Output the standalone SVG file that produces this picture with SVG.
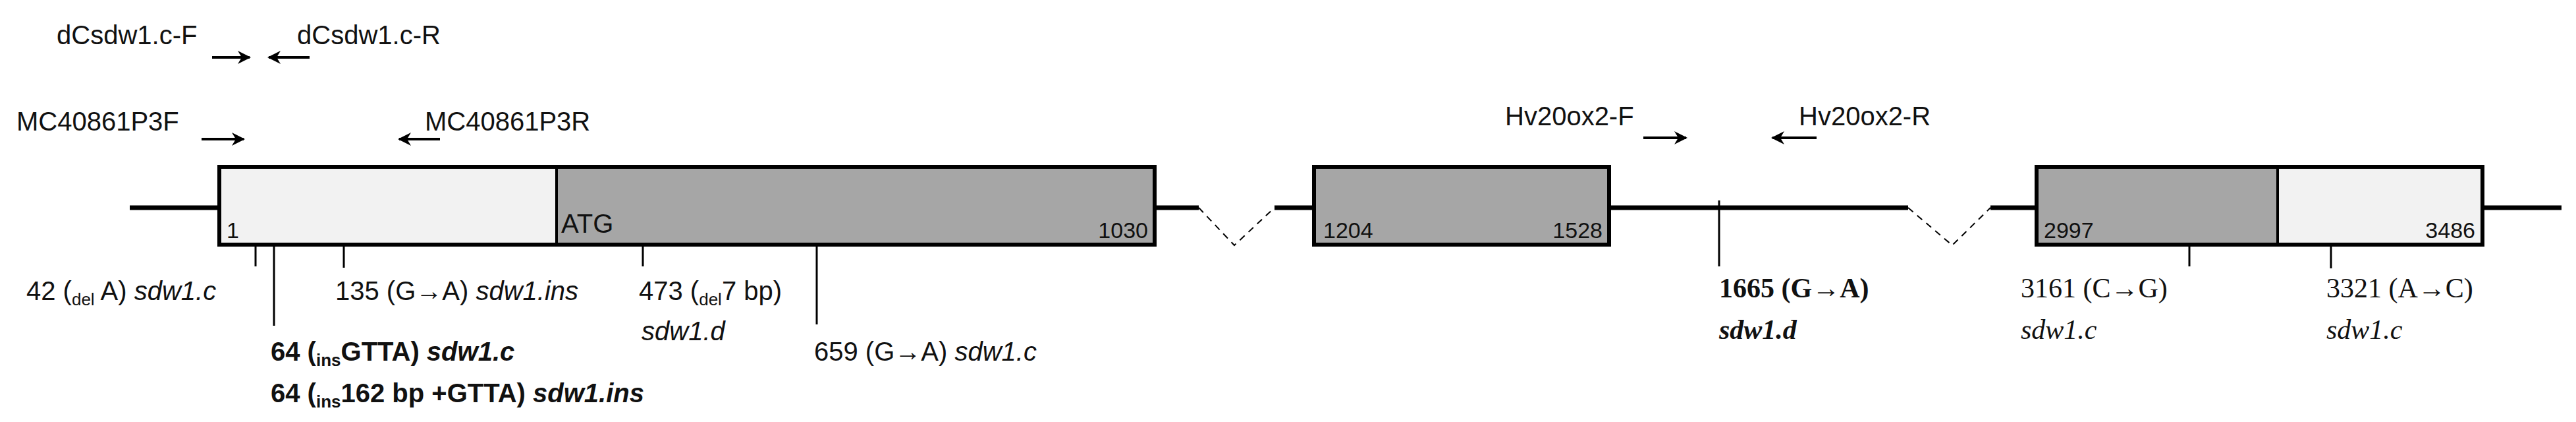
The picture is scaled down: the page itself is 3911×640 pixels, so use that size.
<svg xmlns="http://www.w3.org/2000/svg" width="3911" height="640" viewBox="0 0 3911 640">
<defs>
<style>
.t{font-family:"Liberation Sans",Arial,sans-serif;font-size:40px;fill:#111}
.s{font-family:"Liberation Serif","Times New Roman",serif;font-size:42px;fill:#111}
.n{font-family:"Liberation Sans",Arial,sans-serif;font-size:34px;fill:#111}
.b{font-weight:bold}
.i{font-style:italic}
.box{stroke:#000;stroke-width:6}
.lt{fill:#f2f2f2}.dk{fill:#a6a6a6}
.ln{stroke:#000;stroke-width:7;fill:none}
.dash{stroke:#000;stroke-width:2;fill:none;stroke-dasharray:10,8}
.tick{stroke:#000;stroke-width:3}
.ar{stroke:#000;stroke-width:4;fill:none}
</style>
<marker id="ah" viewBox="0 0 10 10" refX="9" refY="5" markerWidth="5" markerHeight="5" orient="auto"><path d="M0,0 L10,5 L0,10 L3,5 Z" fill="#000"/></marker>
</defs>
<g id="connectors">
<line class="ln" x1="197" y1="315" x2="333" y2="315"/>
<line class="ln" x1="1753" y1="315" x2="1820" y2="315"/>
<polyline class="dash" points="1820,315 1874,372 1935,315"/>
<line class="ln" x1="1935" y1="315" x2="1995" y2="315"/>
<line class="ln" x1="2443" y1="315" x2="2897" y2="315"/>
<polyline class="dash" points="2897,315 2964,372 3022,315"/>
<line class="ln" x1="3022" y1="315" x2="3092" y2="315"/>
<line class="ln" x1="3769" y1="315" x2="3889" y2="315"/>
<line class="tick" x1="388" y1="371" x2="388" y2="404"/>
<line class="tick" x1="416" y1="371" x2="416" y2="494"/>
<line class="tick" x1="522" y1="371" x2="522" y2="406"/>
<line class="tick" x1="976" y1="371" x2="976" y2="404"/>
<line class="tick" x1="1240" y1="371" x2="1240" y2="492"/>
<line class="tick" x1="2610" y1="304" x2="2610" y2="404"/>
<line class="tick" x1="3324" y1="371" x2="3324" y2="404"/>
<line class="tick" x1="3539" y1="371" x2="3539" y2="407"/>
<line class="ar" x1="322" y1="87" x2="379" y2="87" marker-end="url(#ah)"/>
<line class="ar" x1="470" y1="87" x2="408" y2="87" marker-end="url(#ah)"/>
<line class="ar" x1="306" y1="211" x2="370" y2="211" marker-end="url(#ah)"/>
<line class="ar" x1="668" y1="211" x2="606" y2="211" marker-end="url(#ah)"/>
<line class="ar" x1="2495" y1="209" x2="2560" y2="209" stroke-width="6" marker-end="url(#ah)"/>
<line class="ar" x1="2758" y1="209" x2="2691" y2="209" stroke-width="6" marker-end="url(#ah)"/>
</g>
<g id="exon1">
<rect class="lt" x="333" y="253" width="512" height="118"/>
<rect class="dk" x="845" y="253" width="908" height="118"/>
<rect class="box" x="333" y="253" width="1420" height="118" fill="none"/>
<line stroke="#000" stroke-width="4" x1="845" y1="253" x2="845" y2="371"/>
<text class="n" x="344" y="361">1</text>
<text class="t" x="852" y="353" font-size="48" fill="#333">ATG</text>
<text class="n" x="1743" y="361" text-anchor="end">1030</text>
</g>
<g id="exon2">
<rect class="box dk" x="1995" y="253" width="448" height="118"/>
<text class="n" x="2009" y="361">1204</text>
<text class="n" x="2433" y="361" text-anchor="end">1528</text>
</g>
<g id="exon3">
<rect class="dk" x="3092" y="253" width="366" height="118"/>
<rect class="lt" x="3458" y="253" width="311" height="118"/>
<rect class="box" x="3092" y="253" width="677" height="118" fill="none"/>
<line stroke="#000" stroke-width="4" x1="3458" y1="253" x2="3458" y2="371"/>
<text class="n" x="3103" y="361">2997</text>
<text class="n" x="3758" y="361" text-anchor="end">3486</text>
</g>
<g id="primers">
<text class="t" x="86" y="67">dCsdw1.c-F</text>
<text class="t" x="451" y="67">dCsdw1.c-R</text>
<text class="t" x="25" y="198">MC40861P3F</text>
<text class="t" x="645" y="198">MC40861P3R</text>
<text class="t" x="2285" y="190">Hv20ox2-F</text>
<text class="t" x="2731" y="190">Hv20ox2-R</text>
</g>
<g id="mutations">
<text class="t" x="40" y="455">42 (<tspan font-size="26" dy="8">del</tspan><tspan dy="-8"> A) </tspan><tspan class="i">sdw1.c</tspan></text>
<text class="t" x="509" y="455">135 (G→A) <tspan class="i">sdw1.ins</tspan></text>
<text class="t" x="970" y="455">473 (<tspan font-size="26" dy="8">del</tspan><tspan dy="-8">7 bp)</tspan></text>
<text class="t i" x="974" y="516">sdw1.d</text>
<text class="t b" x="411" y="547">64 (<tspan font-size="26" dy="8">ins</tspan><tspan dy="-8">GTTA) </tspan><tspan class="i">sdw1.c</tspan></text>
<text class="t b" x="411" y="610">64 (<tspan font-size="26" dy="8">ins</tspan><tspan dy="-8">162 bp +GTTA) </tspan><tspan class="i">sdw1.ins</tspan></text>
<text class="t" x="1236" y="547">659 (G→A) <tspan class="i">sdw1.c</tspan></text>
<text class="s b" x="2610" y="451">1665 (G→A)</text>
<text class="s b i" x="2610" y="514">sdw1.d</text>
<text class="s" x="3068" y="451">3161 (C→G)</text>
<text class="s i" x="3068" y="514">sdw1.c</text>
<text class="s" x="3532" y="451">3321 (A→C)</text>
<text class="s i" x="3532" y="514">sdw1.c</text>
</g>
</svg>
